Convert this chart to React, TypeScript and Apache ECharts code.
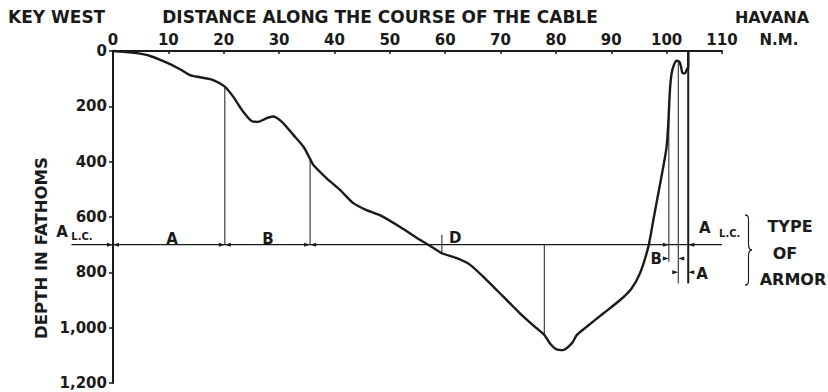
import React, { useEffect, useRef } from "react";
import * as echarts from "echarts";

// ---- data ----
const distanceNm = [
  0, 2, 4, 6.7, 9.7, 12.1, 13.9, 15.7, 18.1, 20.2, 21.7, 23.5, 25.1, 26.2, 27.5, 28.9, 30.5, 32.6, 34.4,
  35.6, 36.2, 38.6, 41.0, 43.4, 45.8, 48.2, 51.8, 55.5, 57.9, 59.4, 62.1, 64.5, 67.5, 70.5, 73.5, 76.5,
  77.9, 78.9, 80.1, 81.3, 82.9, 83.8, 85.6, 88.6, 91.6, 93.6, 95.2, 96.7, 97.6, 98.5, 99.4, 100.0, 100.3,
  100.6, 100.9, 101.3, 101.8, 102.3, 102.6, 102.9, 103.3, 103.6, 103.9, 103.9,
];
const depthFathoms = [
  0, 3, 7, 18, 42, 66, 87, 95, 105, 129, 165, 219, 254, 256, 245, 237, 256, 304, 346,
  390, 412, 460, 502, 550, 575, 593, 635, 683, 712, 731, 749, 773, 828, 888, 948, 1002,
  1026, 1056, 1078, 1081, 1056, 1026, 996, 948, 900, 860, 803, 707, 611, 514, 418, 346, 261,
  141, 81, 51, 35, 39, 57, 81, 81, 69, 57, 0,
];

const xMin = 0;
const xMax = 110;
const xInterval = 10;
const yMin = 0;
const yMax = 1200;
const yInterval = 200;

const armorDepth = 700;
const armorLineX = [-7.5, 110];

// vertical division lines of the armor types
const markerX = [20.2, 35.6, 59.4, 77.9, 100.4, 102.1, 103.9];
const markerTop = [129, 390, 665, 700, 230, 36, 0];
const markerBottom = [700, 700, 731, 1026, 762, 840, 840];
const markerWidth = [1, 1, 1, 1, 1, 1, 2];

// arrowheads (tip at the point)
const arrowRightX = [0, 20.2, 35.6, 100.4, 100.4, 102.1];
const arrowRightDepth = [700, 700, 700, 700, 750, 800];
const arrowLeftX = [0, 20.2, 35.6, 103.9, 102.1, 103.9];
const arrowLeftDepth = [700, 700, 700, 700, 750, 800];

// armor-type labels
const armorText = ["A", "B", "D", "B", "A", "A", "L.C.", "A", "L.C."];
const armorTextX = [10.66, 28.0, 61.8, 98.1, 106.4, -9.2, -5.6, 106.9, 111.4];
const armorTextDepth = [680, 680, 676, 750, 806, 654, 672, 640, 658];
const armorTextSmall = [false, false, false, false, false, false, true, false, true];

const FONT = "DejaVu Sans";
const INK = "#1a1a1a";

const bracePath =
  "M0,0 C4,0 4,2 4,6 L4,29 C4,33 5,35 8,35 C5,35 4,37 4,41 L4,64 C4,68 4,70 0,70";
echarts.graphic.registerShape("brace", echarts.graphic.extendPath(bracePath, {}));

const fmtThousands = (v: number) => String(v).replace(/\B(?=(\d{3})+(?!\d))/g, ",");

export default function App() {
  const ref = useRef<HTMLDivElement>(null);

  useEffect(() => {
    if (!ref.current) return;
    const chart = echarts.init(ref.current, undefined, { renderer: "svg" });

    const markerSeries = markerX.map((x, i) => ({
      type: "line",
      data: [
        [x, markerTop[i]],
        [x, markerBottom[i]],
      ],
      showSymbol: false,
      symbol: "none",
      clip: false,
      silent: true,
      lineStyle: { color: INK, width: markerWidth[i] },
      z: 3,
    }));

    const textStyleBase = { fontFamily: FONT, fontWeight: "bold" as const, color: INK };
    const t = (id: string, text: string, x: number, y: number, size: number, extra: any = {}) => ({
      type: "text",
      id,
      x,
      y,
      ...extra,
      style: { text, fontFamily: FONT, fontWeight: "bold", fontSize: size, fill: INK, align: "center", verticalAlign: "middle" },
    });

    chart.setOption({
      animation: false,
      backgroundColor: "#ffffff",
      grid: { left: 113, top: 51, right: 106, bottom: 9, containLabel: false },
      xAxis: {
        type: "value",
        position: "top",
        min: xMin,
        max: xMax,
        interval: xInterval,
        axisLine: { show: true, lineStyle: { color: INK, width: 2 } },
        axisTick: { show: true, inside: true, length: 3, lineStyle: { color: INK, width: 1.5 } },
        axisLabel: { ...textStyleBase, fontSize: 15, margin: 4, showMinLabel: true, showMaxLabel: true },
        splitLine: { show: false },
      },
      yAxis: {
        type: "value",
        inverse: true,
        min: yMin,
        max: yMax,
        interval: yInterval,
        axisLine: { show: true, lineStyle: { color: INK, width: 2 } },
        axisTick: { show: true, inside: false, length: 4, lineStyle: { color: INK, width: 1.5 } },
        axisLabel: { ...textStyleBase, fontSize: 15, margin: 6, formatter: (v: number) => fmtThousands(v) },
        splitLine: { show: false },
      },
      series: [
        {
          type: "line",
          name: "profile",
          data: distanceNm.map((x, i) => [x, depthFathoms[i]]),
          smooth: 0.25,
          showSymbol: false,
          symbol: "none",
          clip: false,
          lineStyle: { color: INK, width: 2.4 },
          z: 4,
        },
        ...markerSeries,
        {
          type: "scatter",
          data: arrowRightX.map((x, i) => [x, arrowRightDepth[i]]),
          symbol: "path://M0,0L10,5L0,10Z",
          symbolSize: [6, 4],
          symbolOffset: [-3, 0],
          clip: false,
          itemStyle: { color: INK, opacity: 1 },
          z: 5,
        },
        {
          type: "scatter",
          data: arrowLeftX.map((x, i) => [x, arrowLeftDepth[i]]),
          symbol: "path://M10,0L0,5L10,10Z",
          symbolSize: [6, 4],
          symbolOffset: [3, 0],
          clip: false,
          itemStyle: { color: INK, opacity: 1 },
          z: 5,
        },
        {
          type: "scatter",
          data: armorText.map((txt, i) => ({
            name: txt,
            value: [armorTextX[i], armorTextDepth[i]],
            label: {
              fontSize: armorTextSmall[i] ? 10 : 15,
              color: INK,
            },
          })),
          symbolSize: 1,
          clip: false,
          itemStyle: { color: "#ffffff", opacity: 1 },
          label: {
            show: true,
            position: "inside",
            formatter: (p: any) => p.name,
            fontFamily: FONT,
            fontWeight: "bold",
            color: INK,
            opacity: 1,
            align: "center",
            verticalAlign: "middle",
          },
          z: 6,
        },
      ],
      graphic: [
        {
          type: "text",
          id: "kw",
          x: 8,
          y: 17,
          style: { text: "KEY WEST", fontFamily: FONT, fontWeight: "bold", fontSize: 17, fill: INK, align: "left", verticalAlign: "middle" },
        },
        t("title", "DISTANCE ALONG THE COURSE OF THE CABLE", 380, 17, 17),
        t("hav", "HAVANA", 772, 17, 16),
        t("nm", "N.M.", 779, 40, 15),
        t("ylab", "DEPTH IN FATHOMS", 41, 248, 16.5, { rotation: Math.PI / 2 }),
        t("type", "TYPE", 790, 226, 16),
        t("of", "OF", 785, 253, 16),
        t("armor", "ARMOR", 793, 279, 16),
        {
          type: "brace",
          id: "brace",
          x: 745,
          y: 215,
          scaleX: 7 / 8,
          scaleY: 1,
          style: { stroke: INK, fill: "none", lineWidth: 1.3 },
        },
      ],
    });

    // armor-type baseline, placed through the chart's own scales (extends left of the axis)
    const p0 = chart.convertToPixel({ xAxisIndex: 0, yAxisIndex: 0 }, [armorLineX[0], armorDepth]) as number[];
    const p1 = chart.convertToPixel({ xAxisIndex: 0, yAxisIndex: 0 }, [armorLineX[1], armorDepth]) as number[];
    chart.setOption({
      graphic: [
        {
          type: "line",
          id: "armorLine",
          z: 3,
          shape: { x1: p0[0], y1: p0[1], x2: p1[0], y2: p1[1] },
          style: { stroke: INK, lineWidth: 1.3 },
        },
      ],
    });

    return () => chart.dispose();
  }, []);

  return (
    <div
      ref={ref}
      style={{ position: "fixed", left: 0, top: 0, width: 828, height: 392, background: "#fff" }}
    />
  );
}
